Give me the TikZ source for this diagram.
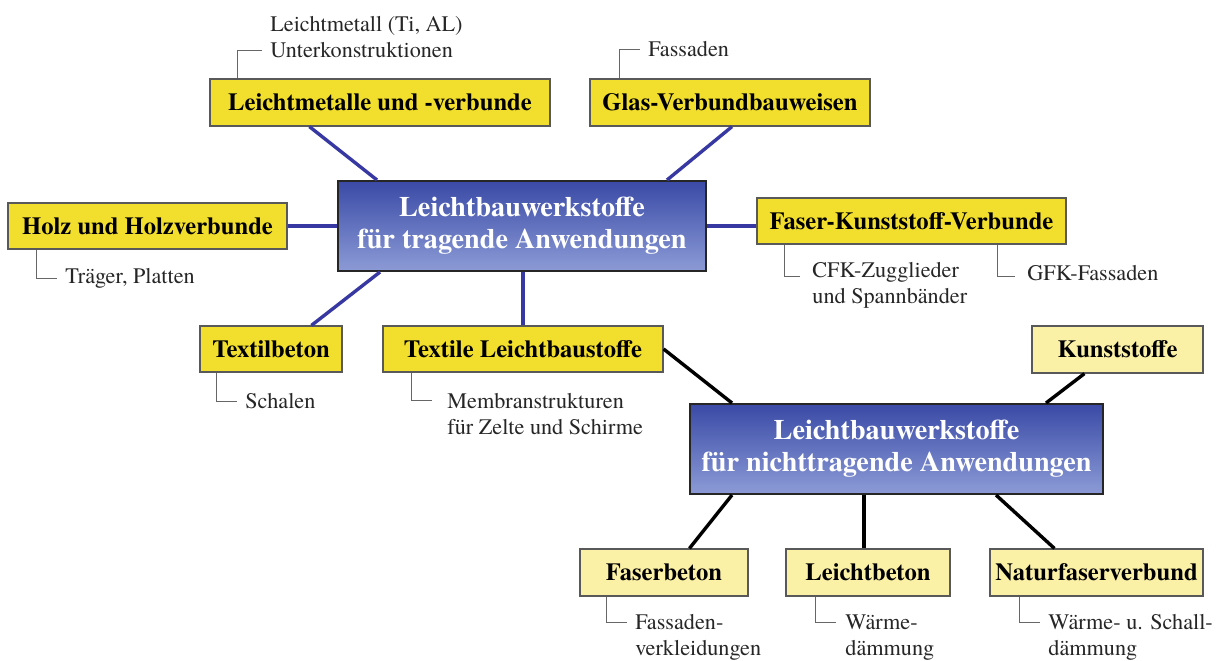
\documentclass[tikz,border=0pt]{standalone}
\usepackage{fontspec}
\setmainfont{TeX Gyre Termes}

\definecolor{blauoben}{HTML}{3A4AA6}
\definecolor{blauunten}{HTML}{8C9BD6}
\definecolor{linienblau}{HTML}{3838A2}
\definecolor{gelb}{HTML}{F2DE2C}
\definecolor{hellgelb}{HTML}{FAF0A6}

\tikzset{
  hauptbox/.style={draw=black!85, line width=1pt, top color=blauoben, bottom color=blauunten,
    text=white, font=\fontsize{14.1}{16}\selectfont\bfseries, align=center, inner sep=0pt},
  gelbbox/.style={draw=black!65, line width=0.6pt, fill=gelb,
    font=\fontsize{12.3}{14}\selectfont\bfseries, inner sep=0pt},
  hellbox/.style={gelbbox, fill=hellgelb},
  notiz/.style={font=\fontsize{11.1}{13}\selectfont, text=black!85, anchor=west, align=left, inner sep=0pt},
  blaulinie/.style={draw=linienblau, line width=1.7pt},
  schwarzlinie/.style={draw=black, line width=1.7pt},
  klammer/.style={draw=black!60, line width=0.5pt}
}

\begin{document}
\begin{tikzpicture}[x=0.5pt,y=-0.5pt]
  \useasboundingbox (0,0) rectangle (1218,660);

  % tragende Anwendungen
  \node[hauptbox, minimum width=184pt, minimum height=45pt] (haupt1) at (522,226)
    {Leichtbauwerkstoffe\\f\"ur tragende Anwendungen};
  \node[gelbbox, minimum width=170pt, minimum height=23.5pt] (metall) at (380,102.5) {Leichtmetalle und -verbunde};
  \node[gelbbox, minimum width=140pt, minimum height=23.5pt] (glas) at (730,102.5) {Glas-Verbundbauweisen};
  \node[gelbbox, minimum width=139.5pt, minimum height=23pt] (holz) at (147.5,226) {Holz und Holzverbunde};
  \node[gelbbox, minimum width=154.5pt, minimum height=23pt] (fkv) at (911.5,221) {Faser-Kunststoff-Verbunde};
  \node[gelbbox, minimum width=71pt, minimum height=23pt] (textilbeton) at (271,349) {Textilbeton};
  \node[gelbbox, minimum width=140pt, minimum height=23pt] (textil) at (523,349) {Textile Leichtbaustoffe};

  \draw[blaulinie] ([xshift=50pt]metall.south west) -- ([xshift=20pt]haupt1.north west);
  \draw[blaulinie] ([xshift=1pt]glas.south) -- ([xshift=-20pt]haupt1.north east);
  \draw[blaulinie] (holz.east) -- (haupt1.west);
  \draw[blaulinie] (haupt1.east) -- (haupt1.east -| fkv.west);
  \draw[blaulinie] ([xshift=56pt]textilbeton.north west) -- ([xshift=21.5pt]haupt1.south west);
  \draw[blaulinie] (textil.north) -- (textil.north |- haupt1.south);

  % nichttragende Anwendungen
  \node[hauptbox, minimum width=206.5pt, minimum height=45pt] (haupt2) at (896.5,449)
    {Leichtbauwerkstoffe\\f\"ur nichttragende Anwendungen};
  \node[hellbox, minimum width=85.5pt, minimum height=23.5pt] (kunst) at (1117.5,349.5) {Kunststoffe};
  \node[hellbox, minimum width=84pt, minimum height=23.5pt] (faserbeton) at (664,572.5) {Faserbeton};
  \node[hellbox, minimum width=82pt, minimum height=23.5pt] (leichtbeton) at (868,572.5) {Leichtbeton};
  \node[hellbox, minimum width=106.5pt, minimum height=23.5pt] (natur) at (1096.5,572.5) {Naturfaserverbund};

  \draw[schwarzlinie] (textil.east) -- ([xshift=21.5pt]haupt2.north west);
  \draw[schwarzlinie] ([xshift=26.5pt]kunst.south west) -- ([xshift=-29pt]haupt2.north east);
  \draw[schwarzlinie] ([xshift=55pt]faserbeton.north west) -- ([xshift=21.5pt]haupt2.south west);
  \draw[schwarzlinie] ([xshift=-2pt]leichtbeton.north) -- ([xshift=-2pt]leichtbeton.north |- haupt2.south);
  \draw[schwarzlinie] ([xshift=32.5pt]natur.north west) -- ([xshift=-54pt]haupt2.south east);

  % Anwendungsbeispiele
  \node[notiz] (n_metall) at (270,37.5) {Leichtmetall (Ti, AL)\\Unterkonstruktionen};
  \node[notiz] (n_glas) at (648,49) {Fassaden};
  \node[notiz] (n_holz) at (65,278) {Tr\"ager, Platten};
  \node[notiz] (n_cfk) at (812,285) {CFK-Zugglieder\\und Spannb\"ander};
  \node[notiz] (n_gfk) at (1027,273) {GFK-Fassaden};
  \node[notiz] (n_schalen) at (245,401) {Schalen};
  \node[notiz] (n_membran) at (447,414) {Membranstrukturen\\f\"ur Zelte und Schirme};
  \node[notiz] (n_faser) at (635,637.5) {Fassaden-\\verkleidungen};
  \node[notiz] (n_leicht) at (845,637.5) {W\"arme-\\d\"ammung};
  \node[notiz] (n_natur) at (1048,637.5) {W\"arme- u. Schall-\\d\"ammung};

  \draw[klammer] ([xshift=14pt]metall.north west) |- ([xshift=-4pt,yshift=-6.5pt]n_metall.west);
  \draw[klammer] ([xshift=15pt]glas.north west) |- ([xshift=-4pt]n_glas.west);
  \draw[klammer] ([xshift=14.5pt]holz.south west) |- ([xshift=-4pt]n_holz.west);
  \draw[klammer] ([xshift=14pt]fkv.south west) |- ([xshift=-6pt,yshift=4.5pt]n_cfk.west);
  \draw[klammer] ([xshift=120.5pt]fkv.south west) |- ([xshift=-6pt,yshift=-1.5pt]n_gfk.west);
  \draw[klammer] ([xshift=8.5pt]textilbeton.south west) |- ([xshift=-4pt]n_schalen.west);
  \draw[klammer] ([xshift=14.5pt]textil.south west) |- ([xshift=-7.5pt,yshift=7pt]n_membran.west);
  \draw[klammer] ([xshift=13.5pt]faserbeton.south west) |- ([xshift=-4pt,yshift=7.5pt]n_faser.west);
  \draw[klammer] ([xshift=15pt]leichtbeton.south west) |- ([xshift=-4.5pt,yshift=7.5pt]n_leicht.west);
  \draw[klammer] ([xshift=15pt]natur.south west) |- ([xshift=-4pt,yshift=7.5pt]n_natur.west);
\end{tikzpicture}
\end{document}
